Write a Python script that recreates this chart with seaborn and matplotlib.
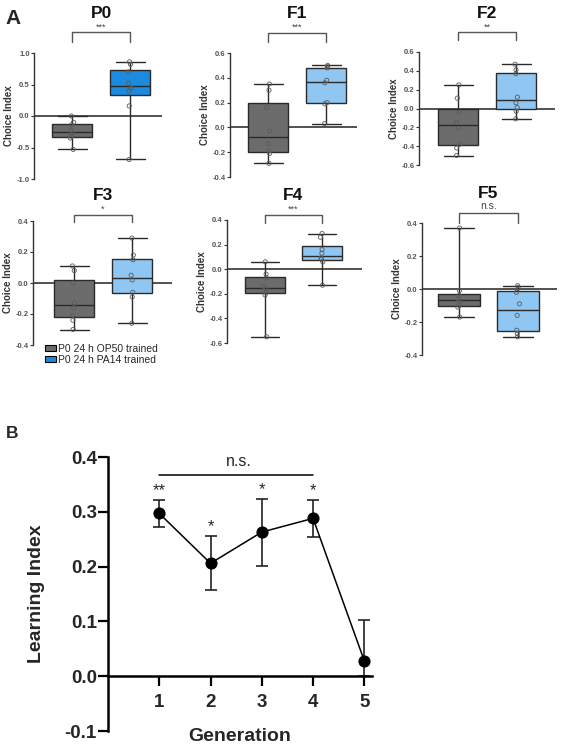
import numpy as np
import pandas as pd
import matplotlib
matplotlib.use("Agg")
import matplotlib.pyplot as plt
import matplotlib.transforms as mtransforms
from matplotlib.patches import Patch
import seaborn as sns

sns.set_theme(style="white")
plt.rcParams['font.family'] = ['Liberation Sans', 'DejaVu Sans']

# ---------------- data: panel A ----------------
panel_names = ["P0", "F1", "F2", "F3", "F4", "F5"]
significance = ["***", "***", "**", "*", "***", "n.s."]
group_labels = ["P0 24 h OP50 trained", "P0 24 h PA14 trained"]

op50_values = [
    [-0.53, -0.35, -0.32, -0.27, -0.23, -0.14, -0.10, 0.00],
    [-0.29, -0.21, -0.19, -0.13, -0.03, 0.16, 0.30, 0.35],
    [-0.50, -0.42, -0.38, -0.21, -0.15, -0.04, 0.11, 0.25],
    [-0.30, -0.24, -0.21, -0.16, -0.13, 0.00, 0.08, 0.11],
    [-0.55, -0.21, -0.19, -0.16, -0.14, -0.07, -0.04, 0.06],
    [-0.17, -0.11, -0.10, -0.075, -0.06, -0.04, -0.01, 0.37],
]
pa14_values = [
    [-0.69, 0.16, 0.40, 0.44, 0.52, 0.70, 0.82, 0.86],
    [0.03, 0.19, 0.20, 0.36, 0.38, 0.48, 0.49, 0.50],
    [-0.11, -0.03, 0.01, 0.06, 0.12, 0.37, 0.41, 0.47],
    [-0.26, -0.09, -0.06, 0.02, 0.05, 0.15, 0.18, 0.29],
    [-0.13, 0.06, 0.08, 0.09, 0.13, 0.16, 0.26, 0.29],
    [-0.29, -0.27, -0.25, -0.16, -0.09, -0.02, 0.01, 0.02],
]
y_ticks = [
    [-1.0, -0.5, 0.0, 0.5, 1.0],
    [-0.4, -0.2, 0.0, 0.2, 0.4, 0.6],
    [-0.6, -0.4, -0.2, 0.0, 0.2, 0.4, 0.6],
    [-0.4, -0.2, 0.0, 0.2, 0.4],
    [-0.6, -0.4, -0.2, 0.0, 0.2, 0.4],
    [-0.4, -0.2, 0.0, 0.2, 0.4],
]

# ---------------- data: panel B ----------------
generation = [1, 2, 3, 4, 5]
learning_mean = [0.297, 0.206, 0.263, 0.288, 0.028]
learning_err_low = [0.025, 0.049, 0.061, 0.034, 0.028]
learning_err_high = [0.025, 0.050, 0.061, 0.034, 0.074]
gen_stars = ["**", "*", "*", "*", ""]
y_ticks_b = [-0.1, 0.0, 0.1, 0.2, 0.3, 0.4]

# ---------------- layout / style ----------------
W, H = 563, 750
fig = plt.figure(figsize=(W / 100, H / 100), dpi=100)

def px_axes(l, t, r, b):
    return fig.add_axes([l / W, 1 - b / H, (r - l) / W, (b - t) / H])

col_op50 = "#6c6c6c"
col_pa14_p0 = "#1b8be0"
col_pa14 = "#8fc6f2"
line_dark = "#2a2a2a"

# pixel rectangles (left, top, right, bottom)
rects = [(34, 53, 162, 179), (230, 53, 357, 177), (419, 52, 555, 165),
         (33, 221, 172, 345), (227, 220, 362, 343), (422, 223, 557, 355)]
box_px = [(72, 130), (268, 326), (458, 516), (74, 132), (265, 322), (459, 518)]
title_py = [14, 14, 14, 195, 195, 193]
bracket_py = [32, 33, 32, 215, 215, 213]
leg_py = [42, 42, 40, 222, 223, 223]
star_py = [27, 27, 27, 209, 209, 206]

for i, name in enumerate(panel_names):
    l, t, r, b = rects[i]
    ax = px_axes(l, t, r, b)
    op = op50_values[i]
    pa = pa14_values[i]
    df = pd.DataFrame({"group": ["OP50"] * len(op) + ["PA14"] * len(pa),
                       "ci": op + pa})
    pal = [col_op50, col_pa14_p0 if i == 0 else col_pa14]
    sns.boxplot(data=df, x="group", y="ci", hue="group", palette=pal,
                width=0.7, whis=(0, 100), showfliers=False, saturation=1,
                linecolor=line_dark, linewidth=1.0, legend=False,
                capwidths=0.5, ax=ax)
    sns.stripplot(data=df, x="group", y="ci", color="white",
                  edgecolor="#5a5a5a", linewidth=0.6, size=3, jitter=0.03,
                  ax=ax)
    for coll in ax.collections:
        coll.set_facecolor("none")
    ax.axhline(0, color="#222222", lw=1.1, zorder=0.5)

    x0, x1 = box_px[i]
    sp = x1 - x0
    ax.set_xlim(-(x0 - l) / sp, 1 + (r - x1) / sp)
    yt = y_ticks[i]
    ax.set_ylim(yt[0], yt[-1])
    ax.set_yticks(yt)
    ax.set_yticklabels([f"{v:.1f}" for v in yt], fontsize=5.5,
                       fontweight="bold", color="#555555")
    ax.set_xticks([])
    ax.set_xlabel("")
    ax.set_ylabel("Choice Index", fontsize=7, fontweight="bold",
                  color="#333333", labelpad=2)
    for s in ["top", "right", "bottom"]:
        ax.spines[s].set_visible(False)
    ax.spines["left"].set_color("#333333")
    ax.spines["left"].set_linewidth(1.0)
    ax.tick_params(axis="y", direction="out", length=2, width=0.8,
                   pad=1, color="#333333", left=True)

    tr = mtransforms.blended_transform_factory(ax.transData, ax.transAxes)
    fy = lambda py: (b - py) / (b - t)
    yb, yl = fy(bracket_py[i]), fy(leg_py[i])
    ax.plot([0, 0, 1, 1], [yl, yb, yb, yl], color="#555555", lw=1.0,
            transform=tr, clip_on=False)
    sig = significance[i]
    ax.text(0.5, fy(star_py[i]), sig, transform=tr, ha="center", va="center",
            fontsize=6.5 if sig != "n.s." else 7.5, color="#444444")
    ax.text(0.5, fy(title_py[i]), name, transform=tr, ha="center",
            va="center", fontsize=12.5, fontweight="bold", color="#111111")

# legend for panel A
handles = [Patch(facecolor=col_op50, edgecolor="black", lw=0.8),
           Patch(facecolor=col_pa14_p0, edgecolor="black", lw=0.8)]
fig.legend(handles, group_labels, loc="upper left",
           bbox_to_anchor=(45 / W, 1 - 344 / H), frameon=False, fontsize=7.5,
           handlelength=1.1, handleheight=0.55, handletextpad=0.15,
           labelspacing=0.05, borderpad=0, borderaxespad=0)

fig.text(13 / W, 1 - 18 / H, "A", fontsize=15, fontweight="bold",
         ha="center", va="center")
fig.text(12 / W, 1 - 434 / H, "B", fontsize=12.5, fontweight="bold",
         ha="center", va="center")

# ---------------- panel B ----------------
axb = px_axes(108, 457, 372, 731)
axb.spines["bottom"].set_position(("data", 0))
axb.errorbar(generation, learning_mean,
             yerr=[learning_err_low, learning_err_high], fmt="none",
             ecolor="#222222", elinewidth=1.2, capsize=4.5, capthick=1.2,
             zorder=2)
sns.lineplot(x=generation, y=learning_mean, color="black", lw=1.1,
             marker="o", markersize=8, markeredgecolor="black", ax=axb,
             zorder=3)
axb.set_xlim(0, 5.15)
axb.set_ylim(-0.1, 0.4)
axb.set_yticks(y_ticks_b)
axb.set_yticklabels([f"{v:.1f}" for v in y_ticks_b],
                    fontsize=13.5, fontweight="bold")
axb.set_xticks(generation)
axb.set_xticklabels([str(g) for g in generation], fontsize=13.5,
                    fontweight="bold")
for s in ["top", "right"]:
    axb.spines[s].set_visible(False)
for s in ["left", "bottom"]:
    axb.spines[s].set_color("black")
    axb.spines[s].set_linewidth(1.8)
axb.tick_params(axis="both", direction="out", length=7, width=1.6,
                color="black", left=True, bottom=True)
axb.tick_params(axis="y", pad=1)
axb.tick_params(axis="x", pad=6)
axb.set_ylabel("Learning Index", fontsize=14, fontweight="bold", labelpad=14)
axb.set_xlabel("Generation", fontsize=14, fontweight="bold")
axb.xaxis.set_label_coords(0.5, 0.012)

# n.s. line across generations 1-4
axb.plot([1, 4], [0.367, 0.367], color="black", lw=1.1)
axb.text(2.55, 0.392, "n.s.", ha="center", va="center", fontsize=11.5)
for g, m, e, s in zip(generation, learning_mean, learning_err_high, gen_stars):
    if s:
        axb.text(g, m + e + 0.017, s, ha="center", va="center", fontsize=12)

fig.savefig("out.png", dpi=100)
